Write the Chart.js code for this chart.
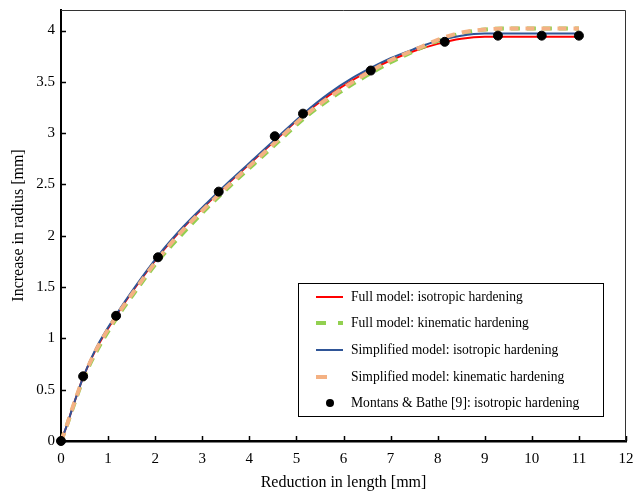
<!DOCTYPE html>
<html>
<head>
<meta charset="utf-8">
<script src="https://cdn.jsdelivr.net/npm/chart.js@4"></script>
<style>
  html, body { margin: 0; padding: 0; background: #fff; }
  #wrap { width: 634px; height: 492px; }
</style>
</head>
<body>
<div id="wrap"><canvas id="radiusChart" width="634" height="492"></canvas></div>
<script>
// reduction in length [mm]
const reduction = [0, 0.1, 0.25, 0.47, 0.75, 1.17, 1.6, 2.07, 2.6, 3.1, 3.6, 4.1, 4.6, 5.15, 5.7, 6.2, 6.6, 7.0, 7.5, 8.0, 8.5, 9.0, 9.5, 10, 10.5, 11];
// increase in radius [mm]
const fullIso   = [0, 0.12, 0.33, 0.62, 0.90, 1.22, 1.51, 1.80, 2.08, 2.31, 2.53, 2.74, 2.95, 3.18, 3.37, 3.52, 3.62, 3.71, 3.80, 3.87, 3.92, 3.94, 3.94, 3.94, 3.94, 3.94];
const fullKin   = [0, 0.12, 0.32, 0.60, 0.87, 1.19, 1.47, 1.76, 2.03, 2.27, 2.49, 2.70, 2.91, 3.14, 3.33, 3.48, 3.59, 3.69, 3.80, 3.90, 3.97, 4.01, 4.02, 4.02, 4.02, 4.02];
const simpIso   = [0, 0.12, 0.33, 0.62, 0.91, 1.23, 1.52, 1.81, 2.09, 2.32, 2.54, 2.75, 2.96, 3.19, 3.39, 3.54, 3.64, 3.73, 3.82, 3.90, 3.95, 3.97, 3.97, 3.97, 3.97, 3.97];
const simpKin   = [0, 0.12, 0.33, 0.61, 0.89, 1.21, 1.49, 1.78, 2.06, 2.29, 2.51, 2.72, 2.93, 3.16, 3.35, 3.50, 3.61, 3.71, 3.81, 3.91, 3.98, 4.01, 4.02, 4.02, 4.02, 4.02];
// Montans & Bathe [9]
const refX = [0, 0.47, 1.17, 2.06, 3.35, 4.54, 5.14, 6.58, 8.15, 9.28, 10.21, 11.0];
const refY = [0, 0.63, 1.22, 1.79, 2.43, 2.97, 3.19, 3.61, 3.89, 3.95, 3.95, 3.95];

const xTicks = [0, 1, 2, 3, 4, 5, 6, 7, 8, 9, 10, 11, 12];
const yTicks = [0, 0.5, 1, 1.5, 2, 2.5, 3, 3.5, 4];

const serif = "'Liberation Serif', 'Times New Roman', serif";

const toPoints = (xs, ys) => xs.map((x, i) => ({ x: x, y: ys[i] }));

const noPadding = (scale) => {
    scale.paddingTop = 0;
    scale.paddingBottom = 0;
    scale.paddingLeft = 0;
    scale.paddingRight = 0;
};

// draws the frame, inward tick marks and the boxed legend
const framePlugin = {
    id: 'framePlugin',
    afterDraw(chart) {
        const ctx = chart.ctx;
        const area = chart.chartArea;
        const xs = chart.scales.x;
        const ys = chart.scales.y;
        ctx.save();
        // thin top and right edges
        ctx.strokeStyle = '#333';
        ctx.lineWidth = 1;
        ctx.beginPath();
        ctx.moveTo(area.left, area.top + 0.5);
        ctx.lineTo(area.right - 0.5, area.top + 0.5);
        ctx.lineTo(area.right - 0.5, area.bottom);
        ctx.stroke();
        // inward ticks
        ctx.strokeStyle = '#000';
        ctx.lineWidth = 1.5;
        ctx.beginPath();
        xTicks.forEach(v => {
            const px = Math.round(xs.getPixelForValue(v)) + 0.5;
            ctx.moveTo(px, area.bottom);
            ctx.lineTo(px, area.bottom - 5);
        });
        yTicks.forEach(v => {
            const py = Math.round(ys.getPixelForValue(v)) + 0.5;
            ctx.moveTo(area.left, py);
            ctx.lineTo(area.left + 5, py);
        });
        ctx.stroke();

        // legend box
        const bx = 298, by = 283, bw = 305, bh = 133;
        ctx.fillStyle = '#fff';
        ctx.fillRect(bx, by, bw, bh);
        ctx.strokeStyle = '#000';
        ctx.lineWidth = 1;
        ctx.strokeRect(bx + 0.5, by + 0.5, bw, bh);
        const rows = [297, 323, 350, 377, 403];
        ctx.font = '13.6px ' + serif;
        ctx.textBaseline = 'middle';
        chart.data.datasets.forEach((ds, i) => {
            const y = rows[i];
            if (ds.showLine) {
                ctx.strokeStyle = ds.borderColor;
                ctx.lineWidth = ds.borderWidth;
                ctx.setLineDash(ds.legendDash || []);
                ctx.lineCap = 'butt';
                ctx.beginPath();
                ctx.moveTo(316, y);
                ctx.lineTo(ds.legendEnd || 343, y);
                ctx.stroke();
                ctx.setLineDash([]);
            } else {
                ctx.fillStyle = '#000';
                ctx.beginPath();
                ctx.arc(330, y, 4, 0, Math.PI * 2);
                ctx.fill();
            }
            ctx.fillStyle = '#000';
            ctx.fillText(ds.label, 351, y);
        });
        ctx.restore();
    }
};

new Chart(document.getElementById('radiusChart'), {
    type: 'scatter',
    data: {
        datasets: [
            {
                label: 'Full model: isotropic hardening',
                data: toPoints(reduction, fullIso),
                showLine: true,
                borderColor: '#ff0000',
                borderWidth: 2,
                pointRadius: 0,
                cubicInterpolationMode: 'monotone',
                order: 4
            },
            {
                label: 'Full model: kinematic hardening',
                data: toPoints(reduction, fullKin),
                showLine: true,
                borderColor: '#92d050',
                borderWidth: 4,
                borderDash: [9, 7],
                legendDash: [10, 12],
                pointRadius: 0,
                cubicInterpolationMode: 'monotone',
                order: 3
            },
            {
                label: 'Simplified model: isotropic hardening',
                data: toPoints(reduction, simpIso),
                showLine: true,
                borderColor: '#2f5597',
                borderWidth: 2,
                pointRadius: 0,
                cubicInterpolationMode: 'monotone',
                order: 2
            },
            {
                label: 'Simplified model: kinematic hardening',
                data: toPoints(reduction, simpKin),
                showLine: true,
                borderColor: '#f4b183',
                borderWidth: 4,
                borderDash: [9, 7],
                legendEnd: 327,
                pointRadius: 0,
                cubicInterpolationMode: 'monotone',
                order: 1
            },
            {
                label: 'Montans & Bathe [9]: isotropic hardening',
                data: toPoints(refX, refY),
                showLine: false,
                backgroundColor: '#000',
                borderColor: '#000',
                pointRadius: 4.5,
                clip: false,
                order: 0
            }
        ]
    },
    options: {
        responsive: false,
        animation: false,
        layout: { padding: { top: 10, right: 8, left: 0, bottom: 0 } },
        scales: {
            x: {
                type: 'linear',
                min: 0,
                max: 12,
                afterBuildTicks: (scale) => { scale.ticks = xTicks.map(v => ({ value: v })); },
                afterFit: (scale) => { scale.height = 51; noPadding(scale); },
                grid: { display: false, drawTicks: false },
                border: { display: true, color: '#000', width: 2.5 },
                ticks: { color: '#000', padding: 9, font: { family: serif, size: 15 }, maxRotation: 0, callback: (v) => String(v) },
                title: { display: true, text: 'Reduction in length [mm]', color: '#000', font: { family: serif, size: 16 }, padding: { top: 4, bottom: 0 } }
            },
            y: {
                type: 'linear',
                min: 0,
                max: 4.2,
                afterBuildTicks: (scale) => { scale.ticks = yTicks.map(v => ({ value: v })); },
                afterFit: (scale) => { scale.width = 61; noPadding(scale); },
                grid: { display: false, drawTicks: false },
                border: { display: true, color: '#000', width: 2 },
                ticks: { color: '#000', padding: 6, font: { family: serif, size: 15 }, callback: (v) => String(v) },
                title: { display: true, text: 'Increase in radius [mm]', color: '#000', font: { family: serif, size: 16 }, padding: { top: 9, bottom: 4 } }
            }
        },
        plugins: {
            legend: { display: false },
            tooltip: { enabled: false }
        }
    },
    plugins: [framePlugin]
});
</script>
</body>
</html>
